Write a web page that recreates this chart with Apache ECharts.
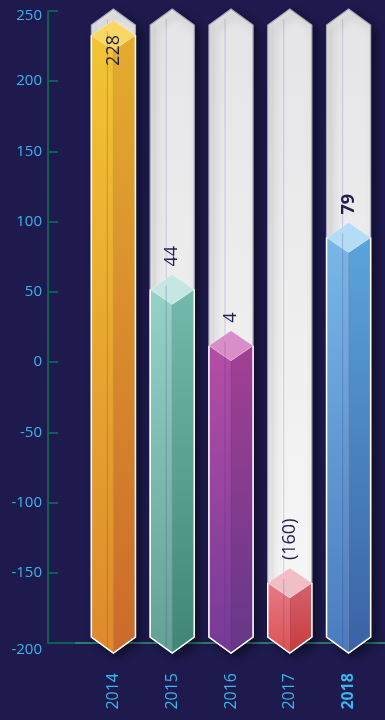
<!DOCTYPE html>
<html>
<head>
<meta charset="utf-8">
<script src="https://cdn.jsdelivr.net/npm/echarts@6/dist/echarts.min.js"></script>
<style>
html,body{margin:0;padding:0;background:#1e1a4e;}
#c{width:385px;height:720px;}
</style>
</head>
<body>
<div id="c"></div>
<script>
// ---- data ----
const years = ['2014', '2015', '2016', '2017', '2018'];
const values = [228, 44, 4, -160, 79];          // printed labels
const barHeights = [222, 41, 1, -168, 78];      // bar tops as drawn in the picture
const yMin = -200;
const yMax = 250;
const yInterval = 50;
const boldCategory = '2018';

// ---- styles ----
const leftTop = ['#f2c434', '#94d2c6', '#b44ea6', '#e47a88', '#78b8e8'];
const leftBottom = ['#de8a2c', '#62a296', '#763a98', '#dc5252', '#4a7cbe'];
const rightTop = ['#e4ac2e', '#74baac', '#a24094', '#d4626e', '#5aa4dc'];
const rightBottom = ['#cb6a2c', '#3f8676', '#653788', '#c63c3c', '#3b62a6'];
const capColor = ['#f8d862', '#c6e6e2', '#d98ec8', '#f2bec6', '#b4dcf4'];

const FONT = '"Open Sans", "Noto Sans", sans-serif';
const ctx2d = document.createElement('canvas').getContext('2d');
function textLen(t, font) { ctx2d.font = font; return ctx2d.measureText(t).width; }
function fmt(v) { return v < 0 ? '(' + Math.abs(v) + ')' : String(v); }
function grad(a, b) {
  return new echarts.graphic.LinearGradient(0, 0, 0, 1, [{offset: 0, color: a}, {offset: 1, color: b}]);
}

const chart = echarts.init(document.getElementById('c'), null, {renderer: 'canvas'});

function bgItem(params, api) {
  const x = api.value(0);
  const top = api.coord([x, yMax]);
  const cx = top[0];
  const yt = top[1] - 2;
  const hw = api.size([1, 0])[0] * 0.75 / 2;
  const yb = api.coord([x, yMin])[1];
  const ybp = yb + 10, ybs = ybp - 16, yts = yt + 16;
  return {
    type: 'group',
    children: [
      {
        type: 'polygon',
        shape: {points: [[cx, yt], [cx + hw, yts], [cx + hw, ybs], [cx, ybp], [cx - hw, ybs], [cx - hw, yts]]},
        style: {
          fill: grad('#e5e5e7', '#f8f8f8'),
          stroke: '#a8a8bc', lineWidth: 1.2,
          shadowColor: 'rgba(0,0,0,0.45)', shadowBlur: 10, shadowOffsetX: 5, shadowOffsetY: 4
        }
      },
      {
        type: 'polygon',
        shape: {points: [[cx - hw + 1, yts], [cx - hw + 6, yts - 4], [cx - hw + 6, ybs], [cx - hw + 1, ybs]]},
        style: {fill: 'rgba(0,0,0,0.03)'}
      }
    ]
  };
}

function barItem(params, api) {
  const i = params.dataIndex;
  const x = api.value(0), v = api.value(1);
  const p = api.coord([x, v]);
  const cx = p[0], yv = p[1];
  const hw = api.size([1, 0])[0] * 0.75 / 2;
  const yb = api.coord([x, yMin])[1];
  const ybp = yb + 10, ybs = ybp - 16;
  const h = 15;
  const gridTop = api.coord([x, yMax])[1];
  const bold = years[i] === boldCategory;
  const font = (bold ? '700 ' : '400 ') + '18px ' + FONT;
  const label = fmt(values[i]);
  const len = textLen(label, font);
  let anchor = yv - 2 * h - 8;
  if (anchor - len < gridTop + 20) anchor = gridTop + 24 + len;
  return {
    type: 'group',
    children: [
      {type: 'polygon', shape: {points: [[cx - hw, yv - h], [cx, yv], [cx, ybp], [cx - hw, ybs]]},
        style: {fill: grad(leftTop[i], leftBottom[i])}},
      {type: 'polygon', shape: {points: [[cx, yv], [cx + hw, yv - h], [cx + hw, ybs], [cx, ybp]]},
        style: {fill: grad(rightTop[i], rightBottom[i])}},
      {type: 'polygon', shape: {points: [[cx, yv - 2 * h], [cx + hw, yv - h], [cx, yv], [cx - hw, yv - h]]},
        style: {fill: capColor[i], stroke: 'rgba(255,255,255,0.35)', lineWidth: 0.8}},
      {type: 'line', shape: {x1: cx, y1: yv, x2: cx, y2: ybp}, style: {stroke: 'rgba(60,40,110,0.25)', lineWidth: 0.8}},
      {type: 'line', shape: {x1: cx - 6, y1: yv - h - 4, x2: cx - 6, y2: ybp - 6}, style: {stroke: 'rgba(60,40,120,0.3)', lineWidth: 0.8}},
      {type: 'polyline', shape: {points: [[cx - hw, yv - h], [cx - hw, ybs], [cx, ybp], [cx + hw, ybs], [cx + hw, yv - h]]},
        style: {fill: null, stroke: '#ffffff', lineWidth: 1.5}},
      {type: 'text', x: cx, y: anchor, rotation: Math.PI / 2,
        style: {text: label, x: 0, y: 0, align: 'left', verticalAlign: 'middle', fill: '#221c50', font: font}}
    ]
  };
}

function bgLineItem(params, api) {
  const x = api.value(0);
  const top = api.coord([x, yMax]);
  const cx = top[0];
  const yb = api.coord([x, yMin])[1];
  return {type: 'line', shape: {x1: cx - 6, y1: top[1] + 8, x2: cx - 6, y2: yb}, style: {stroke: 'rgba(110,100,170,0.35)', lineWidth: 0.8}};
}

chart.setOption({
  backgroundColor: '#1e1a4e',
  animation: false,
  grid: {left: 84, right: 7, top: 11, bottom: 77},
  xAxis: {
    type: 'category',
    data: years,
    axisLine: {show: false},
    axisTick: {show: false},
    axisLabel: {
      rotate: 90, margin: 30, fontSize: 16, fontFamily: FONT,
      color: '#3db4ec',
      formatter: function (v) { return v === boldCategory ? '{b|' + v + '}' : v; },
      rich: {b: {fontWeight: 700, fontSize: 16, fontFamily: FONT, color: '#3db4ec'}}
    }
  },
  yAxis: {
    type: 'value', min: yMin, max: yMax, interval: yInterval, offset: 36,
    axisLine: {show: true, lineStyle: {color: '#0c5e56', width: 2}},
    axisTick: {show: true, inside: true, length: 10, lineStyle: {color: '#0c5e56', width: 2}},
    splitLine: {show: false},
    axisLabel: {
      color: '#3db4ec', fontSize: 15, fontFamily: FONT, margin: 6,
      formatter: function (v) {
        if (v === yMax) return '{mx|' + v + '}';
        if (v === yMin) return '{mn|' + v + '}';
        return String(v);
      },
      rich: {
        mx: {color: '#3db4ec', fontSize: 15, fontFamily: FONT, padding: [10, 0, 0, 0]},
        mn: {color: '#3db4ec', fontSize: 15, fontFamily: FONT, padding: [14, 0, 0, 0]}
      }
    }
  },
  series: [
    {type: 'custom', renderItem: bgItem, data: years.map((y, i) => [i, yMax]), z: 1},
    {type: 'custom', renderItem: bgLineItem, data: years.map((y, i) => [i, yMax]), z: 2},
    {type: 'custom', renderItem: barItem, data: barHeights.map((v, i) => [i, v]), z: 3}
  ]
});

// axis baseline drawn from axis positions
const axisX = chart.convertToPixel({gridIndex: 0}, [0, yMin]);
const yPix = axisX[1];
const gridLeftPx = chart.getModel().getComponent('grid').coordinateSystem.getRect().x;
const yAxisPx = gridLeftPx - 36;
chart.setOption({
  graphic: [
    {type: 'line', z: 0, shape: {x1: yAxisPx, y1: yPix, x2: gridLeftPx - 9, y2: yPix}, style: {stroke: '#0c5e56', lineWidth: 2}},
    {type: 'line', z: 0, shape: {x1: gridLeftPx - 9, y1: yPix, x2: 385, y2: yPix}, style: {stroke: '#2a7d6e', lineWidth: 2}}
  ]
});
</script>
</body>
</html>
